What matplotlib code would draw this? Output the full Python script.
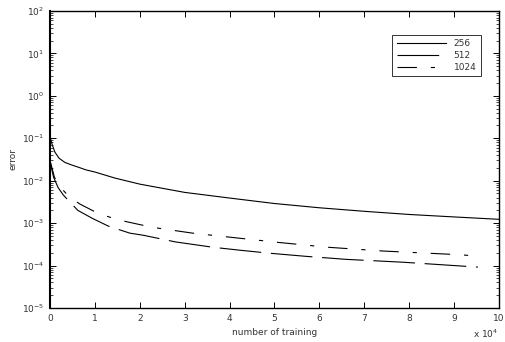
import numpy as np
import matplotlib
matplotlib.use('Agg')
import matplotlib.pyplot as plt
from matplotlib.ticker import FixedLocator, FuncFormatter, NullFormatter

plt.rcParams['font.family'] = 'DejaVu Sans'
plt.rcParams['lines.scale_dashes'] = False

# error vs number of training for three sizes
x_256 = [0, 500, 1100, 2000, 3300, 4800, 6200, 8000, 10000, 14500, 20000, 30000, 40000, 50000, 60000, 70000, 80000, 90000, 100000]
err_256 = [0.11, 0.07, 0.047, 0.034, 0.027, 0.0235, 0.021, 0.018, 0.016, 0.0115, 0.0083, 0.0053, 0.0039, 0.0029, 0.0023, 0.0019, 0.0016, 0.0014, 0.00123]

x_512 = [0, 800, 1800, 2900, 4000, 6200, 9400, 13000, 17800, 20700, 28000, 36300, 42300, 49000, 57000, 66000, 78600, 95300]
err_512 = [0.028, 0.012, 0.0069, 0.0047, 0.0035, 0.0020, 0.0013, 8.5e-4, 5.8e-4, 5.2e-4, 3.6e-4, 2.7e-4, 2.3e-4, 1.95e-4, 1.65e-4, 1.4e-4, 1.2e-4, 9.2e-5]

x_1024 = [0, 1000, 2200, 3600, 5000, 6700, 10700, 15100, 22700, 31800, 42300, 51000, 61900, 74200, 91300, 95800]
err_1024 = [0.03, 0.012, 0.0072, 5.0e-3, 3.7e-3, 2.8e-3, 1.7e-3, 1.2e-3, 8e-4, 5.8e-4, 4.4e-4, 3.5e-4, 2.7e-4, 2.2e-4, 1.8e-4, 1.65e-4]

labels = ['256', '512', '1024']
y_exp = [-5, -4, -3, -2, -1, 0, 1, 2]

fig = plt.figure(figsize=(5.05, 3.42), dpi=100)
ax = fig.add_axes([0.099, 0.0994, 0.889, 0.8686])

ax.plot(x_256, err_256, color='black', lw=0.8, label=labels[0])
ax.plot(x_512, err_512, color='black', lw=0.8, dashes=(30, 7), label=labels[1])
ax.plot(x_1024, err_1024, color='black', lw=0.8, dashes=(14, 10, 3, 10), label=labels[2])

ax.set_yscale('log')
ax.set_xlim(0, 100000)
ax.set_ylim(1e-5, 1e2)
ax.xaxis.set_major_locator(FixedLocator(np.arange(0, 100001, 10000)))
ax.xaxis.set_major_formatter(FuncFormatter(lambda v, p: '%d' % round(v / 10000)))
ax.yaxis.set_major_locator(FixedLocator([10.0 ** e for e in y_exp]))
ax.yaxis.set_major_formatter(FuncFormatter(lambda v, p: r'10$^{%d}$' % round(np.log10(v))))
minor = [m * 10.0 ** e for e in y_exp[:-1] for m in range(2, 10)]
ax.yaxis.set_minor_locator(FixedLocator(minor))
ax.yaxis.set_minor_formatter(NullFormatter())

ax.tick_params(which='both', direction='in', top=True, right=True, labelsize=6.5, colors='black', labelcolor='#333333')
ax.tick_params(which='major', length=4, width=0.7, pad=4)
ax.tick_params(which='minor', length=2, width=0.5)
ax.tick_params(axis='x', which='minor', top=False, bottom=False)
for s in ax.spines.values():
    s.set_linewidth(1.0)
ax.spines['left'].set_linewidth(1.5)

ax.set_xlabel('number of training', fontsize=6.5, color='#333333', labelpad=4)
ax.set_ylabel('error', fontsize=6.5, color='#333333', labelpad=3)
fig.text(0.937, 0.012, r'x 10$^4$', fontsize=6.5, color='#333333')

leg = ax.legend(loc='upper right', bbox_to_anchor=(0.97, 0.935), fontsize=6.5, frameon=True, fancybox=False,
                edgecolor='black', handlelength=5.5, borderpad=0.5, labelspacing=0.3)
leg.get_frame().set_linewidth(0.7)
for t in leg.get_texts():
    t.set_color('#333333')

fig.savefig('out.png', dpi=100)
